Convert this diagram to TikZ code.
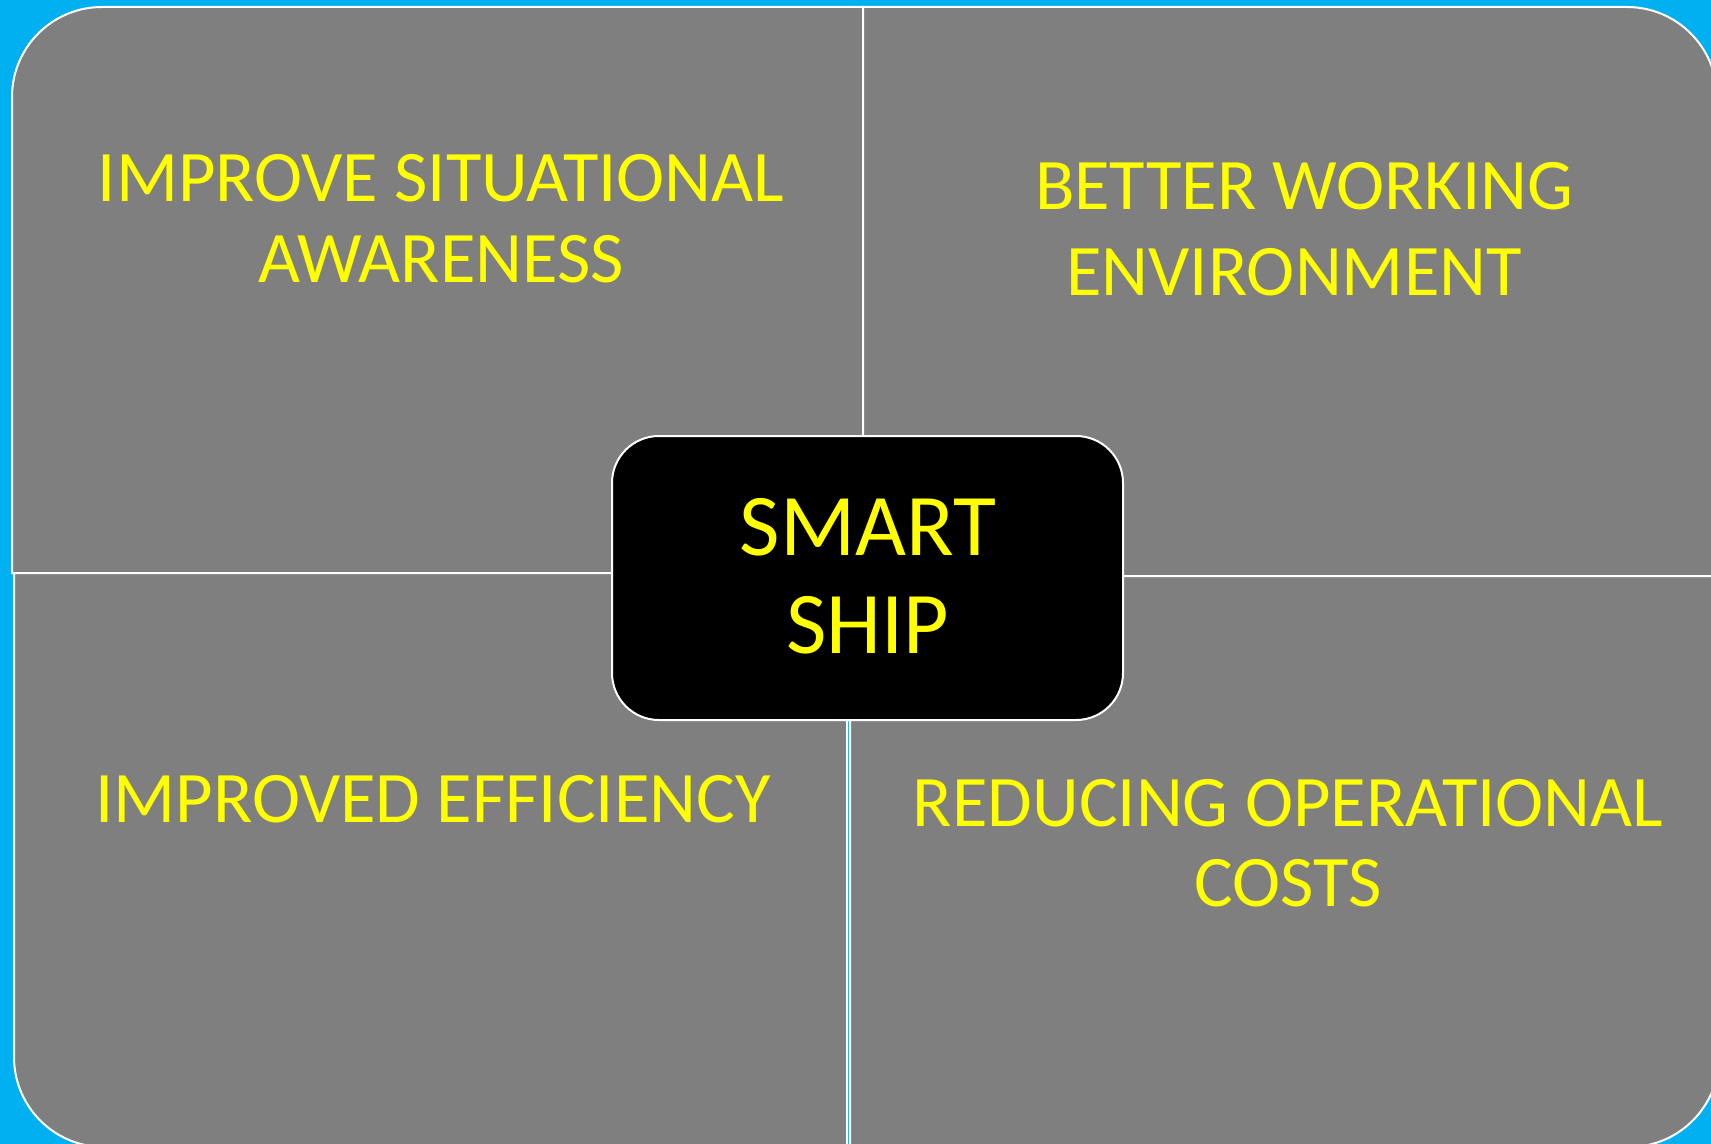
\documentclass[tikz,border=0pt]{standalone}
\usepackage{fontspec}
\setmainfont{Carlito}
\definecolor{bgcyan}{RGB}{0,176,240}
\definecolor{quadgray}{RGB}{127,127,127}
\definecolor{txtyellow}{RGB}{255,255,0}
\begin{document}
\begin{tikzpicture}[x=0.5pt,y=-0.5pt,
  quad/.style={fill=quadgray,draw=white,line width=1pt},
  hubbox/.style={draw=white,line width=1pt,fill=black,rounded corners=23.5pt,
    minimum width=255.5pt,minimum height=142pt,inner sep=0pt},
  lbl/.style={text=txtyellow,anchor=base,inner sep=0pt},
  lblA/.style={lbl,font=\fontsize{36.3}{44}\selectfont},
  lblH/.style={lbl,font=\fontsize{44}{53}\selectfont}]
\useasboundingbox (0,0) rectangle (1711,1144);
\clip (0,0) rectangle (1711,1144);
\fill[bgcyan] (0,0) rectangle (1711,1144);
% quadrants
\draw[quad] (863,7) -- (102,7) arc(90:180:45pt) -- (12,573) -- (863,573) -- cycle;
\draw[quad] (863,7) -- (1627,7) arc(90:0:45pt) -- (1717,576) -- (863,576) -- cycle;
\draw[quad] (14,573) -- (847,573) -- (847,1147) -- (104,1147) arc(270:180:45pt) -- cycle;
\draw[quad] (850,576) -- (1719,576) -- (1719,1057) arc(0:-90:45pt) -- (850,1147) -- cycle;
% centre
\node[hubbox] (hub) at (867.5,578) {};
\node[lblH] (hub1) at (868,555) {SMART};
\node[lblH] (hub2) at (868,653) {SHIP};
% labels
\node[lblA] (tl1) at (441,202) {IMPROVE SITUATIONAL};
\node[lblA] (tl2) at (441,283) {AWARENESS};
\node[lblA] (tr1) at (1304,210) {BETTER WORKING};
\node[lblA] (tr2) at (1294,296) {ENVIRONMENT};
\node[lblA] (bl1) at (433,822) {IMPROVED EFFICIENCY};
\node[lblA] (br1) at (1288,826) {REDUCING OPERATIONAL};
\node[lblA] (br2) at (1288,906) {COSTS};
\end{tikzpicture}
\end{document}
